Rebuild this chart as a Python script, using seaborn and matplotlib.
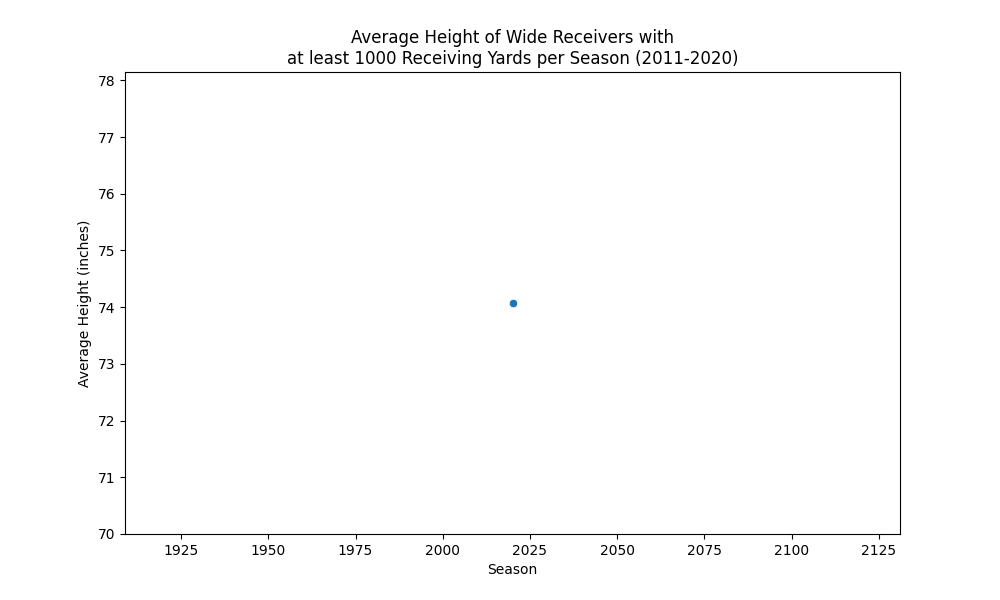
import pandas as pd
import matplotlib
matplotlib.use("Agg")
import matplotlib.pyplot as plt
import seaborn as sns

# Average height per season (only one season survived the filter)
seasons = [2020]
avg_height = [74.074]

df = pd.DataFrame({"Season": seasons, "Average Height (inches)": avg_height})

fig, ax = plt.subplots(figsize=(10, 6), dpi=100)
sns.scatterplot(data=df, x="Season", y="Average Height (inches)", ax=ax)

ax.set_title("Average Height of Wide Receivers with\nat least 1000 Receiving Yards per Season (2011-2020)")
ax.set_xlabel("Season")
ax.set_ylabel("Average Height (inches)")

plt.savefig("out.png", dpi=100)
